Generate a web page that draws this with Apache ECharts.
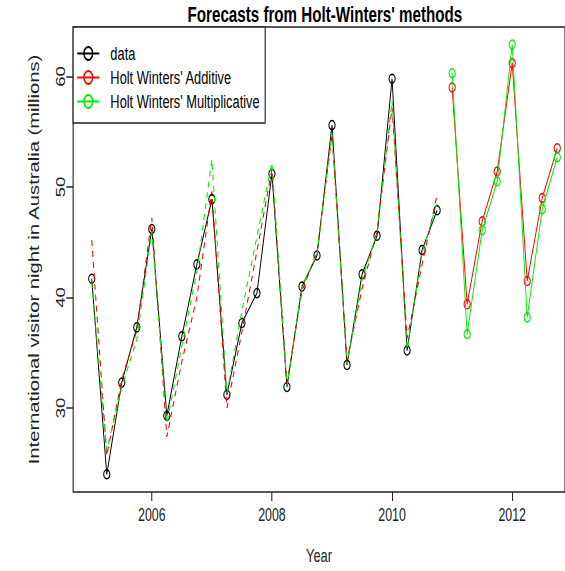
<!DOCTYPE html>
<html>
<head>
<meta charset="utf-8">
<script src="https://cdn.jsdelivr.net/npm/echarts@6/dist/echarts.min.js"></script>
<style>
  html, body { margin: 0; padding: 0; background: #fff; overflow: hidden; }
  #wrap { width: 565px; height: 571px; overflow: hidden; }
  /* the original plot is squeezed horizontally, so draw wider and scale down in x */
  #chart { width: 819px; height: 571px; transform: scaleX(0.68987); transform-origin: 0 0; }
</style>
</head>
<body>
<div id="wrap"><div id="chart"></div></div>
<script>
// quarterly series, start year + quarter step
const startYear = 2005
const forecastStart = 2011
const quarterStep = 0.25

// international visitor nights (millions), 2005 Q1 - 2010 Q4
const visitors = [41.7, 24.0, 32.3, 37.3, 46.2, 29.3, 36.5, 43.0,
  48.9, 31.2, 37.7, 40.4, 51.2, 31.9, 41.0, 43.8,
  55.6, 33.9, 42.1, 45.6, 59.8, 35.2, 44.3, 47.9]

// fitted values (dashed)
const fittedAdditive = [45.2, 25.7, 32.6, 37.0, 47.2, 27.4, 34.2, 40.0,
  49.6, 30.0, 36.9, 44.2, 51.6, 32.2, 40.6, 44.1,
  54.7, 34.3, 40.8, 46.0, 57.2, 36.3, 43.0, 49.3]
const fittedMultiplicative = [41.4, 26.2, 31.9, 36.2, 46.0, 28.6, 35.6, 42.3,
  52.5, 31.3, 38.8, 45.5, 52.2, 32.0, 41.0, 43.9,
  54.9, 34.0, 41.6, 45.9, 57.8, 35.3, 44.0, 48.6]

// forecasts 2011 Q1 - 2012 Q4
const forecastAdditive = [59.0, 39.4, 46.9, 51.4, 61.2, 41.5, 49.0, 53.5]
const forecastMultiplicative = [60.3, 36.7, 46.1, 50.5, 62.9, 38.2, 48.0, 52.7]

const xTicks = [2006, 2008, 2010, 2012]
const yTicks = [30, 40, 50, 60]
const legendNames = ['data', "Holt Winters' Additive", "Holt Winters' Multiplicative"]

function toPairs(values, start) {
  return values.map((v, i) => [start + i * quarterStep, v])
}

const FONT = '"Liberation Sans", Arial, Helvetica, sans-serif'
const RED = '#ff0000'
const GREEN = '#00ee00'

const chart = echarts.init(document.getElementById('chart'), null, { renderer: 'svg' })

function pointSeries(name, data, color, z) {
  return {
    name: name,
    type: 'line',
    data: data,
    symbol: 'circle',
    symbolSize: 9,
    showAllSymbol: true,
    z: z,
    lineStyle: { color: color, width: 1.4 },
    itemStyle: { color: 'rgba(255,255,255,0)', borderColor: color, borderWidth: 1.5 },
    emphasis: { disabled: true }
  }
}

function dashedSeries(name, data, color, z) {
  return {
    name: name,
    type: 'line',
    data: data,
    showSymbol: false,
    symbol: 'none',
    z: z,
    lineStyle: { color: color, width: 1.5, type: [6, 5] },
    emphasis: { disabled: true }
  }
}

chart.setOption({
  animation: false,
  color: ['#000', RED, GREEN],
  title: {
    text: "Forecasts from Holt-Winters' methods",
    left: 471,
    top: 3,
    padding: 0,
    textAlign: 'center',
    textStyle: { fontFamily: FONT, fontWeight: 'bold', fontSize: 22, color: '#000' }
  },
  legend: {
    data: legendNames,
    orient: 'vertical',
    left: 106,
    top: 27,
    padding: [17, 8, 12, 5],
    itemWidth: 32,
    itemHeight: 16,
    itemGap: 5,
    backgroundColor: '#fff',
    borderColor: '#222',
    borderWidth: 1.6,
    selectedMode: false,
    textStyle: { fontFamily: FONT, fontSize: 18.6, color: '#000', lineHeight: 16, padding: [0, 0, 0, 11] }
  },
  grid: {
    left: 106,
    right: -3,
    top: 27,
    bottom: 79,
    show: true,
    borderColor: '#222',
    borderWidth: 1.6,
    backgroundColor: 'transparent'
  },
  xAxis: {
    type: 'value',
    min: 2004.69,
    max: 2012.879,
    name: 'Year',
    nameLocation: 'middle',
    nameGap: 54,
    nameTextStyle: { fontFamily: FONT, fontSize: 18.6, color: '#222' },
    axisLine: { show: false },
    axisTick: { show: true, length: 9, customValues: xTicks, lineStyle: { color: '#222', width: 1.5 } },
    axisLabel: {
      customValues: xTicks, margin: 14, fontFamily: FONT, fontSize: 18, color: '#222',
      formatter: v => String(v)
    },
    splitLine: { show: false }
  },
  yAxis: {
    type: 'value',
    min: 22.40,
    max: 64.48,
    name: 'International visitor night in Australia (millions)',
    nameLocation: 'middle',
    nameGap: 46,
    nameTextStyle: { fontFamily: FONT, fontSize: 20.2, color: '#222' },
    axisLine: { show: false },
    axisTick: { show: true, length: 10, customValues: yTicks, lineStyle: { color: '#222', width: 1.5 } },
    axisLabel: { customValues: yTicks, rotate: 90, margin: 8, fontFamily: FONT, fontSize: 18.6, color: '#222' },
    splitLine: { show: false }
  },
  series: [
    pointSeries(legendNames[0], toPairs(visitors, startYear), '#000', 2),
    dashedSeries('fittedAdditive', toPairs(fittedAdditive, startYear), RED, 3),
    dashedSeries('fittedMultiplicative', toPairs(fittedMultiplicative, startYear), GREEN, 4),
    pointSeries(legendNames[1], toPairs(forecastAdditive, forecastStart), RED, 5),
    pointSeries(legendNames[2], toPairs(forecastMultiplicative, forecastStart), GREEN, 6)
  ]
})
</script>
</body>
</html>
